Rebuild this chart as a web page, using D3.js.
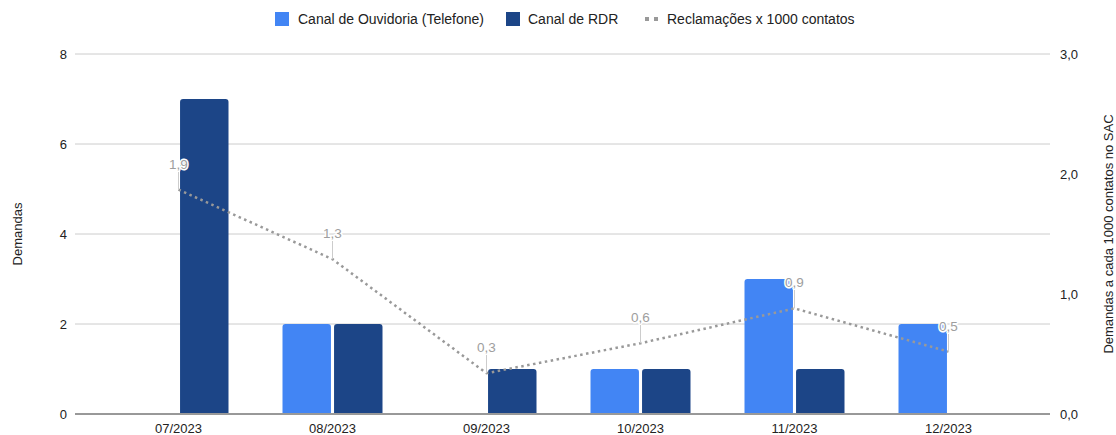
<!DOCTYPE html>
<html>
<head>
<meta charset="utf-8">
<script src="https://cdn.jsdelivr.net/npm/d3@7"></script>
<style>
  html, body { margin: 0; padding: 0; background: #fff; }
  svg { display: block; font-family: "Liberation Sans", Arial, sans-serif; }
</style>
</head>
<body>
<svg id="chart" width="1116" height="435"></svg>
<script>
// Monthly complaint channels and rate per 1000 SAC contacts
const months = ["07/2023", "08/2023", "09/2023", "10/2023", "11/2023", "12/2023"];
const telefone = [0, 2, 0, 1, 3, 2];
const rdr = [7, 2, 1, 1, 1, 0];
const rate = [1.87, 1.29, 0.34, 0.59, 0.88, 0.52];
const leftTicks = [0, 2, 4, 6, 8];
const rightTicks = [0, 1, 2, 3];
const seriesNames = ["Canal de Ouvidoria (Telefone)", "Canal de RDR", "Reclamações x 1000 contatos"];

const colTel = "#4285f4", colRdr = "#1c4587", colLine = "#999999";

const svg = d3.select("#chart");
const plotLeft = 75, plotRight = 1050, plotTop = 54, plotBottom = 414;

const x = d3.scaleBand().domain(months).range([101.5, 1025.5]);
const inner = d3.scaleBand().domain(["tel", "rdr"]).range([0, 100]).paddingInner(0.06);
const yL = d3.scaleLinear().domain([0, 8]).range([plotBottom, plotTop]);
const yR = d3.scaleLinear().domain([0, 3]).range([plotBottom, plotTop]);
const fmt = v => d3.format(".1f")(v).replace(".", ",");

// gridlines
svg.append("g").selectAll("line").data(leftTicks.filter(t => t > 0)).join("line")
  .attr("x1", plotLeft).attr("x2", plotRight)
  .attr("y1", d => yL(d)).attr("y2", d => yL(d))
  .attr("stroke", "#cccccc").attr("stroke-width", 1);

// left axis labels
svg.append("g").selectAll("text").data(leftTicks).join("text")
  .attr("x", 67).attr("y", d => yL(d) + 4.5)
  .attr("text-anchor", "end").attr("font-size", 13).attr("fill", "#222")
  .text(d => d);

// right axis labels
svg.append("g").selectAll("text").data(rightTicks).join("text")
  .attr("x", 1060).attr("y", d => yR(d) + 4.5)
  .attr("text-anchor", "start").attr("font-size", 13).attr("fill", "#222")
  .text(d => fmt(d));

// axis titles
svg.append("text").attr("transform", `translate(22,${(plotTop + plotBottom) / 2}) rotate(-90)`)
  .attr("text-anchor", "middle").attr("font-size", 13).attr("fill", "#222").text("Demandas");
svg.append("text").attr("transform", `translate(1113,${(plotTop + plotBottom) / 2}) rotate(-90)`)
  .attr("text-anchor", "middle").attr("font-size", 13).attr("fill", "#222")
  .text("Demandas a cada 1000 contatos no SAC");

// bars with rounded top corners
function barPath(x0, w, yTop, yBase, r) {
  const h = yBase - yTop;
  r = Math.min(r, h, w / 2);
  return `M${x0},${yBase}V${yTop + r}Q${x0},${yTop} ${x0 + r},${yTop}H${x0 + w - r}Q${x0 + w},${yTop} ${x0 + w},${yTop + r}V${yBase}Z`;
}
const groupW = 100;
const barData = [];
months.forEach((m, i) => {
  barData.push({ m, key: "tel", v: telefone[i], c: colTel });
  barData.push({ m, key: "rdr", v: rdr[i], c: colRdr });
});
svg.append("g").selectAll("path").data(barData.filter(d => d.v > 0)).join("path")
  .attr("d", d => {
    const gx = x(d.m) + x.bandwidth() / 2 - groupW / 2;
    return barPath(gx + inner(d.key), inner.bandwidth(), yL(d.v), plotBottom - 1, 3);
  })
  .attr("fill", d => d.c);

// baseline
svg.append("line").attr("x1", plotLeft).attr("x2", plotRight)
  .attr("y1", plotBottom).attr("y2", plotBottom)
  .attr("stroke", "#333").attr("stroke-width", 1);

// x labels
svg.append("g").selectAll("text").data(months).join("text")
  .attr("x", d => x(d) + x.bandwidth() / 2).attr("y", 433)
  .attr("text-anchor", "middle").attr("font-size", 13).attr("fill", "#222")
  .text(d => d);

// dotted rate line
const pts = months.map((m, i) => [x(m) + x.bandwidth() / 2, yR(rate[i]), rate[i]]);
svg.append("path")
  .attr("d", d3.line()(pts.map(p => [p[0], p[1]])))
  .attr("fill", "none").attr("stroke", colLine).attr("stroke-width", 2.5)
  .attr("stroke-dasharray", "2.5,3.5");

// value labels with leader lines
const lab = svg.append("g");
pts.forEach(p => {
  const ly = p[1] - 26;
  lab.append("line").attr("x1", p[0]).attr("x2", p[0])
    .attr("y1", ly + 5).attr("y2", p[1])
    .attr("stroke", "#cccccc").attr("stroke-width", 1);
  lab.append("text").attr("x", p[0]).attr("y", ly + 5)
    .attr("text-anchor", "middle").attr("font-size", 13.5)
    .attr("fill", "#9e9e9e").attr("stroke", "#fff").attr("stroke-width", 3)
    .attr("paint-order", "stroke").attr("stroke-linejoin", "round")
    .text(fmt(p[2]));
});

// legend
const leg = svg.append("g").attr("font-size", 14).attr("fill", "#222");
leg.append("rect").attr("x", 275).attr("y", 12).attr("width", 14).attr("height", 14).attr("fill", colTel);
leg.append("text").attr("x", 298).attr("y", 24).text(seriesNames[0]);
leg.append("rect").attr("x", 506).attr("y", 12).attr("width", 14).attr("height", 14).attr("fill", colRdr);
leg.append("text").attr("x", 528).attr("y", 24).text(seriesNames[1]);
leg.append("rect").attr("x", 645).attr("y", 17).attr("width", 4).attr("height", 4).attr("fill", colLine);
leg.append("rect").attr("x", 654).attr("y", 17).attr("width", 4).attr("height", 4).attr("fill", colLine);
leg.append("text").attr("x", 667).attr("y", 24).text(seriesNames[2]);
</script>
</body>
</html>
